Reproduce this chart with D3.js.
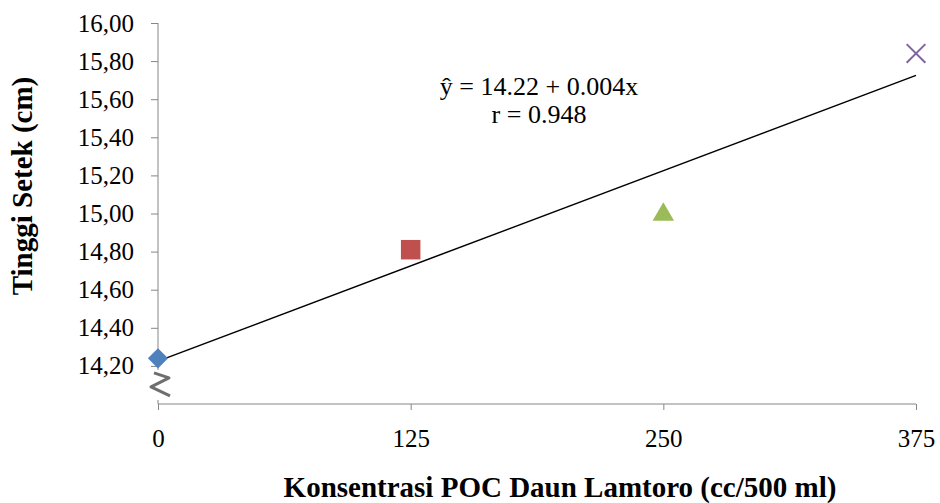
<!DOCTYPE html>
<html>
<head>
<meta charset="utf-8">
<script src="https://cdn.jsdelivr.net/npm/d3@7"></script>
<style>
  body { margin: 0; background: #fff; }
  text { font-family: "Liberation Serif", "Times New Roman", serif; }
</style>
</head>
<body>
<div id="chart"></div>
<script>
// Data
var doses = [0, 125, 250, 375];
var heights = [14.24, 14.81, 15.01, 15.84];
var symbols = ["diamond", "square", "triangle", "cross"];
var colors = ["#4F81BD", "#C0504D", "#9BBB59", "#8064A2"];
var xTicks = [0, 125, 250, 375];
var yTicks = [14.2, 14.4, 14.6, 14.8, 15.0, 15.2, 15.4, 15.6, 15.8, 16.0];
var intercept = 14.225, slope = 0.004;
var eqLines = ["\u0177 = 14.22 + 0.004x", "r = 0.948"];

var W = 940, H = 503;
var margin = {top: 23, right: 24, bottom: 99, left: 158};
var serif = "'Liberation Serif', 'Times New Roman', serif";

// Set the ranges
var x = d3.scaleLinear().domain([0, 375]).range([margin.left, W - margin.right]);
var y = d3.scaleLinear().domain([14.0, 16.0]).range([H - margin.bottom, margin.top]);

var svg = d3.select("#chart").append("svg")
    .attr("width", W)
    .attr("height", H);

var axisColor = "#868686";

// y axis
var yAxis = d3.axisLeft(y).tickValues(yTicks).tickSize(7).tickPadding(17)
    .tickFormat(function(d) { return d3.format(".2f")(d).replace(".", ","); });
var gy = svg.append("g")
    .attr("transform", "translate(" + x(0) + ",0)")
    .call(yAxis);
gy.select(".domain").remove();
gy.append("line")
    .attr("x1", 0).attr("x2", 0)
    .attr("y1", y(16.0)).attr("y2", y(14.0))
    .attr("stroke", axisColor);

// x axis
var xAxis = d3.axisBottom(x).tickValues(xTicks).tickSize(6).tickPadding(19)
    .tickFormat(d3.format("d"));
var gx = svg.append("g")
    .attr("transform", "translate(0," + y(14.0) + ")")
    .call(xAxis);
gx.select(".domain").attr("stroke", axisColor).attr("d",
    "M" + x(0) + ",0H" + x(375));

[gx, gy].forEach(function(g) {
  g.attr("font-family", serif).attr("font-size", 25);
});
svg.selectAll(".tick line").attr("stroke", axisColor);
svg.selectAll(".tick text").attr("fill", "#000");

// axis break: white patch with a zig-zag over the y axis
var bx = x(0), by0 = y(14.2) + 4, by1 = y(14.0) - 4;
svg.append("rect")
    .attr("x", bx - 12).attr("y", by0)
    .attr("width", 24).attr("height", by1 - by0)
    .attr("fill", "#fff");
svg.append("path")
    .attr("d", "M" + (bx - 4) + "," + (by0 + 3) +
               "L" + (bx + 11) + "," + (by0 + 8) +
               "L" + (bx - 7) + "," + (by0 + 17) +
               "L" + (bx + 12) + "," + (by0 + 26))
    .attr("fill", "none")
    .attr("stroke", "#555")
    .attr("stroke-width", 3)
    .attr("stroke-linejoin", "round")
    .attr("opacity", 0.85);

// regression line
svg.append("line")
    .attr("x1", x(0)).attr("y1", y(intercept + slope * 0))
    .attr("x2", x(375)).attr("y2", y(intercept + slope * 375))
    .attr("stroke", "#000")
    .attr("stroke-width", 1.5);

// markers
var symTypes = {
  diamond: d3.symbol().type(d3.symbolDiamond2).size(260),
  square: d3.symbol().type(d3.symbolSquare).size(380),
  triangle: d3.symbol().type(d3.symbolTriangle).size(200),
  cross: d3.symbol().type(d3.symbolX).size(230)
};
doses.forEach(function(d, i) {
  var dy = symbols[i] === "triangle" ? 3 : 0;
  var p = svg.append("path")
      .attr("d", symTypes[symbols[i]]())
      .attr("transform", "translate(" + x(d) + "," + (y(heights[i]) + dy) + ")");
  if (symbols[i] === "cross") {
    p.attr("fill", "none").attr("stroke", colors[i]).attr("stroke-width", 2);
  } else {
    p.attr("fill", colors[i]);
  }
});

// equation
svg.selectAll(".eq")
    .data(eqLines)
    .enter().append("text")
    .attr("class", "eq")
    .attr("x", 539)
    .attr("y", function(d, i) { return 95 + i * 28; })
    .attr("text-anchor", "middle")
    .attr("font-family", serif)
    .style("font-size", "26px")
    .text(function(d) { return d; });

// axis titles
svg.append("text")
    .attr("x", 560).attr("y", 497)
    .attr("text-anchor", "middle")
    .attr("font-family", serif)
    .style("font-size", "29px")
    .style("font-weight", "bold")
    .text("Konsentrasi POC Daun Lamtoro (cc/500 ml)");

svg.append("text")
    .attr("transform", "translate(32,186) rotate(-90)")
    .attr("text-anchor", "middle")
    .attr("font-family", serif)
    .style("font-size", "29px")
    .style("font-weight", "bold")
    .text("Tinggi Setek (cm)");
</script>
</body>
</html>
